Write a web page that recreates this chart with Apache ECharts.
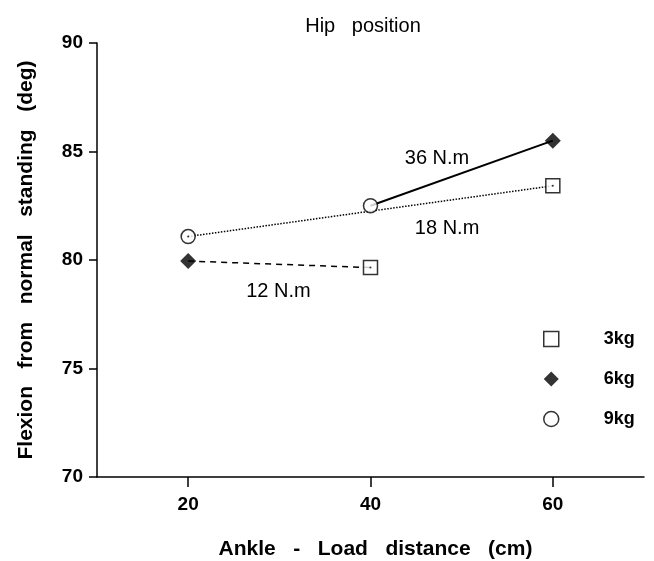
<!DOCTYPE html>
<html>
<head>
<meta charset="utf-8">
<script src="https://cdn.jsdelivr.net/npm/echarts@6/dist/echarts.min.js"></script>
<style>html,body{margin:0;padding:0;background:#fff}#c{width:654px;height:561px}</style>
</head>
<body>
<div id="c"></div>
<script>
// Data (x = ankle-load distance in cm, y = flexion in deg)
const xTicks = [20, 40, 60];
const kg3 = [[40, 79.65], [60, 83.42]];
const kg6 = [[20, 79.95], [60, 85.5]];
const kg9 = [[20, 81.08], [40, 82.5]];
const nm12 = [[20, 79.95], [40, 79.65]];
const nm18 = [[20, 81.08], [60, 83.42]];
const nm36 = [[40, 82.5], [60, 85.5]];
const lineLabels = ['12 N.m', '18 N.m', '36 N.m'];

const chart = echarts.init(document.getElementById('c'));
const FF = '"Liberation Sans", Arial, sans-serif';
function lineSeries(name, data, type, width, labelCoord) {
  return {
    name: name, type: 'line', data: data, symbol: 'none', z: 2,
    lineStyle: { color: '#000', width: width, type: type },
    markPoint: {
      symbol: 'circle', symbolSize: 0,
      label: { show: true, formatter: name, color: '#000', fontFamily: FF, fontSize: 20, position: 'inside' },
      data: [{ coord: labelCoord }]
    },
    silent: true
  };
}
chart.setOption({
  animation: false,
  title: { text: 'Hip   position', left: 358, top: 11, textAlign: 'center',
    textStyle: { fontFamily: FF, fontWeight: 'normal', fontSize: 20, color: '#000' } },
  legend: {
    data: [
      { name: '3kg', icon: 'rect', itemStyle: { color: '#fff', borderColor: '#000', borderWidth: 1.5 } },
      { name: '6kg', icon: 'diamond', itemStyle: { color: '#000' } },
      { name: '9kg', icon: 'circle', itemStyle: { color: '#fff', borderColor: '#000', borderWidth: 1.5 } }
    ],
    orient: 'vertical', left: 538, top: 325, itemGap: 22, itemWidth: 15, itemHeight: 15,
    textStyle: { fontFamily: FF, fontWeight: 'bold', fontSize: 18, color: '#000', padding: [0, 0, 0, 40] }
  },
  grid: { left: 97, right: 10, top: 43, bottom: 84, containLabel: false, outerBoundsMode: 'none' },
  xAxis: {
    type: 'value', min: 10, max: 70,
    name: 'Ankle   -   Load   distance   (cm)', nameLocation: 'middle', nameGap: 62,
    nameTextStyle: { fontFamily: FF, fontWeight: 'bold', fontSize: 21, color: '#000', padding: [0, 0, 0, 10] },
    axisLine: { show: true, onZero: false, lineStyle: { color: '#000', width: 1.5 } },
    axisTick: { show: true, inside: false, length: 10, customValues: xTicks, lineStyle: { color: '#000', width: 1.5 } },
    axisLabel: { customValues: xTicks, margin: 18, fontFamily: FF, fontWeight: 'bold', fontSize: 19, color: '#000' },
    splitLine: { show: false }
  },
  yAxis: {
    type: 'value', min: 70, max: 90, interval: 5,
    name: 'Flexion   from   normal   standing   (deg)', nameLocation: 'middle', nameGap: 60,
    nameTextStyle: { fontFamily: FF, fontWeight: 'bold', fontSize: 21, color: '#000' },
    axisLine: { show: true, lineStyle: { color: '#000', width: 1.5 } },
    axisTick: { show: true, length: 8, lineStyle: { color: '#000', width: 1.5 } },
    axisLabel: { margin: 14, fontFamily: FF, fontWeight: 'bold', fontSize: 19, color: '#000' },
    splitLine: { show: false }
  },
  series: [
    lineSeries(lineLabels[0], nm12, [6, 5], 1.5, [29.9, 78.55]),
    lineSeries(lineLabels[1], nm18, 'dotted', 1.5, [48.4, 81.45]),
    lineSeries(lineLabels[2], nm36, 'solid', 2, [47.3, 84.68]),
    { name: '3kg', type: 'scatter', data: kg3, symbol: 'rect', symbolSize: 14, z: 5,
      itemStyle: { color: '#fff', borderColor: '#000', borderWidth: 1.5 } },
    { name: '6kg', type: 'scatter', data: kg6, symbol: 'diamond', symbolSize: [16, 16], z: 5,
      itemStyle: { color: '#000' } },
    { name: '9kg', type: 'scatter', data: kg9, symbol: 'circle', symbolSize: 14, z: 5,
      itemStyle: { color: '#fff', borderColor: '#000', borderWidth: 1.5 } },
    { name: 'centre', type: 'scatter', data: kg3.concat([kg9[0]]), symbol: 'circle', symbolSize: 2, z: 6,
      itemStyle: { color: '#000' }, silent: true }
  ]
});
</script>
</body>
</html>
